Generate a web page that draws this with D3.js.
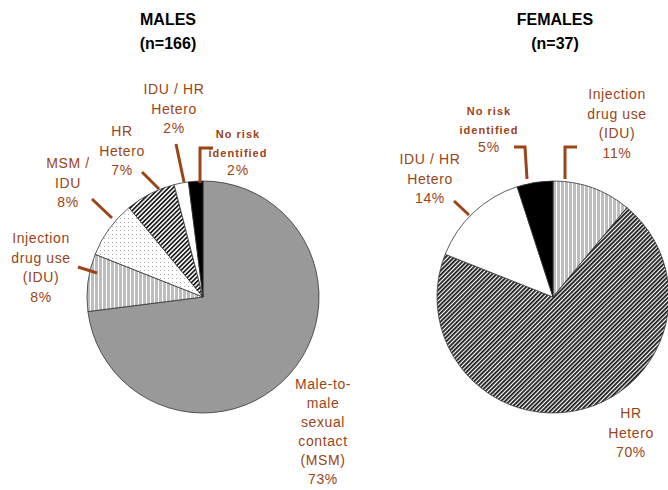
<!DOCTYPE html>
<html><head><meta charset="utf-8">
<script src="https://cdn.jsdelivr.net/npm/d3@7"></script>
<style>
body{margin:0;background:#fff;}
svg{display:block;}
</style></head>
<body>
<svg id="c" width="668" height="490"></svg>
<script>
// ---- data ----
const maleTitle = ["MALES", "(n=166)"];
const femaleTitle = ["FEMALES", "(n=37)"];
const maleCategories = ["Male-to-male sexual contact (MSM)", "Injection drug use (IDU)", "MSM / IDU", "HR Hetero", "IDU / HR Hetero", "No risk identified"];
const maleValues = [73, 8, 8, 7, 2, 2];
const femaleCategories = ["Injection drug use (IDU)", "HR Hetero", "IDU / HR Hetero", "No risk identified"];
const femaleValues = [11, 70, 14, 5];

// ---- styling / layout ----
const brown = "#9a4418";
const svg = d3.select("#c");
const defs = svg.append("defs");

function stripes(id){
  const p = defs.append("pattern").attr("id", id).attr("patternUnits","userSpaceOnUse").attr("width",4).attr("height",4);
  p.append("rect").attr("width",4).attr("height",4).attr("fill","#fff");
  p.append("rect").attr("width",3).attr("height",4).attr("fill","#bdbdbd");
}
function hatch(id, size, w){
  const p = defs.append("pattern").attr("id", id).attr("patternUnits","userSpaceOnUse")
    .attr("width",size).attr("height",size).attr("patternTransform","rotate(45)");
  p.append("rect").attr("width",size).attr("height",size).attr("fill","#fff");
  p.append("rect").attr("width",w).attr("height",size).attr("fill","#1a1a1a");
}
function dots(id){
  const p = defs.append("pattern").attr("id", id).attr("patternUnits","userSpaceOnUse").attr("width",4).attr("height",4);
  p.append("rect").attr("width",4).attr("height",4).attr("fill","#fff");
  p.append("rect").attr("x",1).attr("y",1).attr("width",1).attr("height",1).attr("fill","#aaa");
}
stripes("vs"); hatch("hm", 3.2, 1.7); hatch("hf", 3, 1.8); dots("dt");

const maleFills = ["#999999", "url(#vs)", "url(#dt)", "url(#hm)", "#ffffff", "#000000"];
const femaleFills = ["url(#vs)", "url(#hf)", "#ffffff", "#000000"];

const R = 116;
const pie = d3.pie().sort(null).value(d => d);
const arc = d3.arc().innerRadius(0).outerRadius(R);

function drawPie(cx, cy, values, fills){
  const g = svg.append("g").attr("transform", `translate(${cx},${cy})`);
  g.selectAll("path").data(pie(values)).join("path")
    .attr("d", arc).attr("fill", (d,i) => fills[i])
    .attr("stroke", "#333").attr("stroke-width", 0.8);
}
drawPie(203, 297, maleValues, maleFills);
drawPie(553, 297, femaleValues, femaleFills);

function title(x, lines){
  svg.append("text").attr("x", x).attr("y", 25).attr("text-anchor","middle")
    .attr("font-family","Liberation Sans, Arial, sans-serif").attr("font-weight","bold").attr("font-size",16).text(lines[0]);
  svg.append("text").attr("x", x).attr("y", 49).attr("text-anchor","middle")
    .attr("font-family","Liberation Sans, Arial, sans-serif").attr("font-weight","bold").attr("font-size",16).text(lines[1]);
}
title(168, maleTitle);
title(555, femaleTitle);

function label(x, y, lines, pct, small, lhOverride){
  const t = svg.append("text").attr("text-anchor","middle").attr("fill", brown)
    .attr("font-family","Liberation Sans, Arial, sans-serif")
    .attr("font-size", small ? 11 : 14).attr("font-weight", small ? "bold" : "normal")
    .attr("letter-spacing", small ? 1 : 0.6);
  const all = lines.concat([pct + "%"]);
  const lh = lhOverride || (small ? 18.5 : 19.6);
  all.forEach((s, i) => {
    t.append("tspan").attr("x", x).attr("y", y + i*lh)
      .attr("font-size", (small && i === all.length-1) ? 14 : null)
      .attr("font-weight", (small && i === all.length-1) ? "normal" : null)
      .text(s);
  });
}
// male labels
label(323, 389, ["Male-to-", "male", "sexual", "contact", "(MSM)"], maleValues[0], false, 19);
label(41, 243, ["Injection", "drug use", "(IDU)"], maleValues[1]);
label(68, 168, ["MSM /", "IDU"], maleValues[2]);
label(122, 136, ["HR", "Hetero"], maleValues[3]);
label(174, 94, ["IDU / HR", "Hetero"], maleValues[4]);
label(238, 138, ["No risk", "identified"], maleValues[5], true);
// female labels
label(617, 99, ["Injection", "drug use", "(IDU)"], femaleValues[0]);
label(631, 418, ["HR", "Hetero"], femaleValues[1]);
label(430, 164, ["IDU / HR", "Hetero"], femaleValues[2]);
label(489, 115, ["No risk", "identified"], femaleValues[3], true);

// leader lines
const leaders = [
  [[78,267],[97,273]],
  [[92,199],[112,218]],
  [[142,172],[159,189]],
  [[176,144],[184,182]],
  [[213,148],[200,148],[200,183]],
  [[514,147],[525,147],[527,179]],
  [[577,147],[565,147],[565,179]],
  [[454,201],[469,215]]
];
leaders.forEach(pts => {
  svg.append("path").attr("d", d3.line()(pts)).attr("fill","none")
    .attr("stroke", brown).attr("stroke-width", 3);
});
</script>
</body></html>
